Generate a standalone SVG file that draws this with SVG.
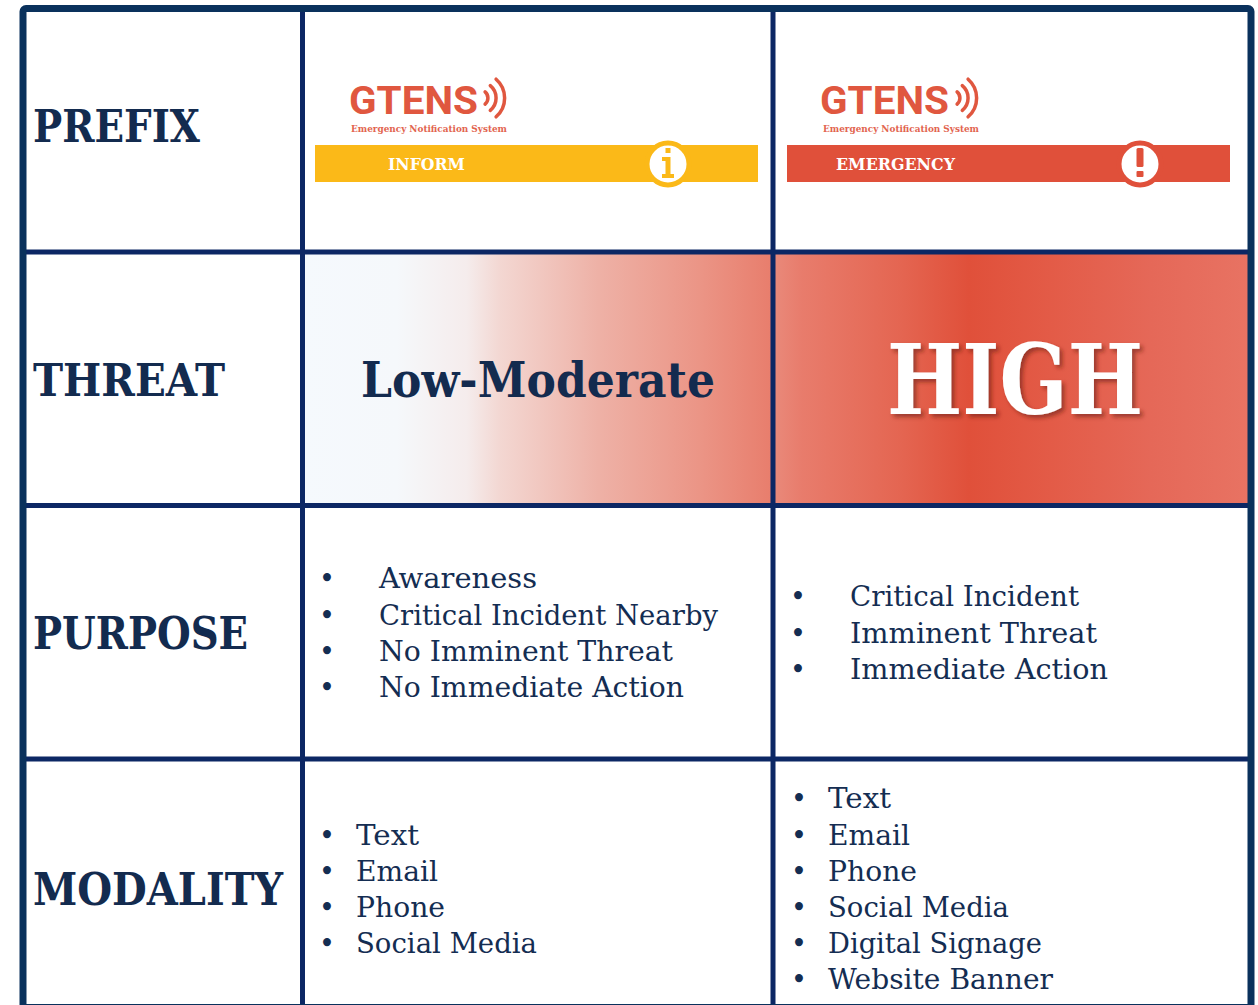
<svg xmlns="http://www.w3.org/2000/svg" width="1258" height="1005" viewBox="0 0 1258 1005">
<defs>
<style>
.lbl{font-family:'DejaVu Serif','Liberation Serif',serif;font-weight:700;font-size:44px;fill:#132b4f}
.item{font-family:'DejaVu Serif','Liberation Serif',serif;font-size:27px;fill:#142d52}
.bul{font-family:'DejaVu Serif','Liberation Serif',serif;font-size:27px;fill:#142d52;text-anchor:middle}
.grid{stroke:#0c2764;stroke-width:5;fill:none}
.logo{font-family:Roboto,'Liberation Sans',sans-serif;font-weight:700;font-size:39px;fill:#e0573f}
.sub{font-family:'DejaVu Serif','Liberation Serif',serif;font-weight:700;font-size:9px;fill:#e2644f}
.bar{font-family:'DejaVu Serif','Liberation Serif',serif;font-weight:700;font-size:17.5px;fill:#ffffff}
.wave{fill:none;stroke-width:3.5;stroke-linecap:round}
</style>
<linearGradient id="gLow" x1="0" y1="0" x2="1" y2="0">
<stop offset="0" stop-color="#f5f9fd"/>
<stop offset="0.2" stop-color="#f5f8fb"/>
<stop offset="0.35" stop-color="#f5ecec"/>
<stop offset="0.42" stop-color="#f3d7d2"/>
<stop offset="0.63" stop-color="#eeb1a6"/>
<stop offset="0.85" stop-color="#eb9485"/>
<stop offset="1" stop-color="#e87d6c"/>
</linearGradient>
<linearGradient id="gHigh" x1="0" y1="0" x2="1" y2="0">
<stop offset="0" stop-color="#e98a7b"/>
<stop offset="0.06" stop-color="#e87c6c"/>
<stop offset="0.27" stop-color="#e46551"/>
<stop offset="0.41" stop-color="#e0503a"/>
<stop offset="0.58" stop-color="#e35b47"/>
<stop offset="0.79" stop-color="#e56858"/>
<stop offset="1" stop-color="#e87363"/>
</linearGradient>
<filter id="shadow" x="-10%" y="-10%" width="130%" height="140%">
<feDropShadow dx="3" dy="3" stdDeviation="2" flood-color="#6b2118" flood-opacity="0.6"/>
</filter>
</defs>
<rect width="1258" height="1005" fill="#ffffff"/>

<g id="cell-low">
<rect x="302" y="252" width="471" height="254" fill="url(#gLow)"/>
<text x="538" y="397" text-anchor="middle" font-family="'DejaVu Serif','Liberation Serif',serif" font-weight="700" font-size="49" fill="#132b4f" textLength="354" lengthAdjust="spacingAndGlyphs">Low-Moderate</text>
</g>
<g id="cell-high">
<rect x="773" y="252" width="478" height="254" fill="url(#gHigh)"/>
<text x="1015" y="414" text-anchor="middle" font-family="'DejaVu Serif','Liberation Serif',serif" font-weight="700" font-size="98" fill="#ffffff" filter="url(#shadow)" textLength="256" lengthAdjust="spacingAndGlyphs">HIGH</text>
</g>

<g id="connectors">
<line class="grid" x1="302.5" y1="8" x2="302.5" y2="1007"/>
<line class="grid" x1="773" y1="8" x2="773" y2="1007"/>
<line class="grid" x1="23" y1="252" x2="1251" y2="252"/>
<line class="grid" x1="23" y1="505.5" x2="1251" y2="505.5"/>
<line class="grid" x1="23" y1="759" x2="1251" y2="759"/>
<rect x="23" y="8.5" width="1228" height="999" rx="3" fill="none" stroke="#0a315c" stroke-width="7"/>
</g>

<g id="label-prefix"><text class="lbl" x="33" y="142" textLength="167" lengthAdjust="spacingAndGlyphs">PREFIX</text></g>
<g id="label-threat"><text class="lbl" x="33" y="396" textLength="192" lengthAdjust="spacingAndGlyphs">THREAT</text></g>
<g id="label-purpose"><text class="lbl" x="33" y="649" textLength="215" lengthAdjust="spacingAndGlyphs">PURPOSE</text></g>
<g id="label-modality"><text class="lbl" x="33" y="905" textLength="250" lengthAdjust="spacingAndGlyphs">MODALITY</text></g>

<g id="prefix-inform">
<text class="logo" x="349" y="114" textLength="129" lengthAdjust="spacingAndGlyphs">GTENS</text>
<g stroke="#e0573f">
<path class="wave" d="M 485.1 91.9 A 8 8 0 0 1 485.1 104.1"/>
<path class="wave" d="M 490.3 85.7 A 16 16 0 0 1 490.3 110.3"/>
<path class="wave" d="M 496.1 79.2 A 25 25 0 0 1 496.1 116.8"/>
</g>
<text class="sub" x="351" y="132" textLength="156" lengthAdjust="spacingAndGlyphs">Emergency Notification System</text>
<rect x="315" y="145" width="443" height="37" fill="#fbb918"/>
<text class="bar" x="388" y="170" textLength="77" lengthAdjust="spacingAndGlyphs">INFORM</text>
<circle cx="668" cy="164" r="21" fill="#ffffff" stroke="#fbb918" stroke-width="5"/>
<rect x="665.5" y="148" width="5" height="5" fill="#fbb918"/>
<path d="M 662 157 H 670.5 V 174 H 674 V 178 H 662 V 174 H 665.5 V 161 H 662 Z" fill="#fbb918"/>
</g>

<g id="prefix-emergency">
<text class="logo" x="820" y="114" textLength="129" lengthAdjust="spacingAndGlyphs">GTENS</text>
<g stroke="#e0573f">
<path class="wave" d="M 957.1 91.9 A 8 8 0 0 1 957.1 104.1"/>
<path class="wave" d="M 962.3 85.7 A 16 16 0 0 1 962.3 110.3"/>
<path class="wave" d="M 968.1 79.2 A 25 25 0 0 1 968.1 116.8"/>
</g>
<text class="sub" x="823" y="132" textLength="156" lengthAdjust="spacingAndGlyphs">Emergency Notification System</text>
<rect x="787" y="145" width="443" height="37" fill="#e0503a"/>
<text class="bar" x="836" y="170" textLength="119" lengthAdjust="spacingAndGlyphs">EMERGENCY</text>
<circle cx="1140" cy="164" r="21" fill="#ffffff" stroke="#e0503a" stroke-width="5"/>
<rect x="1136.5" y="148" width="7" height="19" rx="1.5" fill="#e0503a"/>
<rect x="1136.5" y="171" width="7" height="6" rx="1" fill="#e0503a"/>
</g>

<g id="purpose-inform">
<text class="bul" x="327" y="588">•</text>
<text class="bul" x="327" y="625">•</text>
<text class="bul" x="327" y="661">•</text>
<text class="bul" x="327" y="697">•</text>
<text class="item" x="379" y="588" textLength="158" lengthAdjust="spacingAndGlyphs">Awareness</text>
<text class="item" x="379" y="625" textLength="339" lengthAdjust="spacingAndGlyphs">Critical Incident Nearby</text>
<text class="item" x="379" y="661" textLength="294" lengthAdjust="spacingAndGlyphs">No Imminent Threat</text>
<text class="item" x="379" y="697" textLength="305" lengthAdjust="spacingAndGlyphs">No Immediate Action</text>
</g>

<g id="purpose-emergency">
<text class="bul" x="798" y="606">•</text>
<text class="bul" x="798" y="643">•</text>
<text class="bul" x="798" y="679">•</text>
<text class="item" x="850" y="606" textLength="229" lengthAdjust="spacingAndGlyphs">Critical Incident</text>
<text class="item" x="850" y="643" textLength="247" lengthAdjust="spacingAndGlyphs">Imminent Threat</text>
<text class="item" x="850" y="679" textLength="258" lengthAdjust="spacingAndGlyphs">Immediate Action</text>
</g>

<g id="modality-inform">
<text class="bul" x="327" y="845">•</text>
<text class="bul" x="327" y="881">•</text>
<text class="bul" x="327" y="917">•</text>
<text class="bul" x="327" y="953">•</text>
<text class="item" x="356" y="845" textLength="63" lengthAdjust="spacingAndGlyphs">Text</text>
<text class="item" x="356" y="881" textLength="82" lengthAdjust="spacingAndGlyphs">Email</text>
<text class="item" x="356" y="917" textLength="89" lengthAdjust="spacingAndGlyphs">Phone</text>
<text class="item" x="356" y="953" textLength="181" lengthAdjust="spacingAndGlyphs">Social Media</text>
</g>

<g id="modality-emergency">
<text class="bul" x="799" y="808">•</text>
<text class="bul" x="799" y="845">•</text>
<text class="bul" x="799" y="881">•</text>
<text class="bul" x="799" y="917">•</text>
<text class="bul" x="799" y="953">•</text>
<text class="bul" x="799" y="989">•</text>
<text class="item" x="828" y="808" textLength="63" lengthAdjust="spacingAndGlyphs">Text</text>
<text class="item" x="828" y="845" textLength="82" lengthAdjust="spacingAndGlyphs">Email</text>
<text class="item" x="828" y="881" textLength="89" lengthAdjust="spacingAndGlyphs">Phone</text>
<text class="item" x="828" y="917" textLength="181" lengthAdjust="spacingAndGlyphs">Social Media</text>
<text class="item" x="828" y="953" textLength="214" lengthAdjust="spacingAndGlyphs">Digital Signage</text>
<text class="item" x="828" y="989" textLength="225" lengthAdjust="spacingAndGlyphs">Website Banner</text>
</g>
</svg>
